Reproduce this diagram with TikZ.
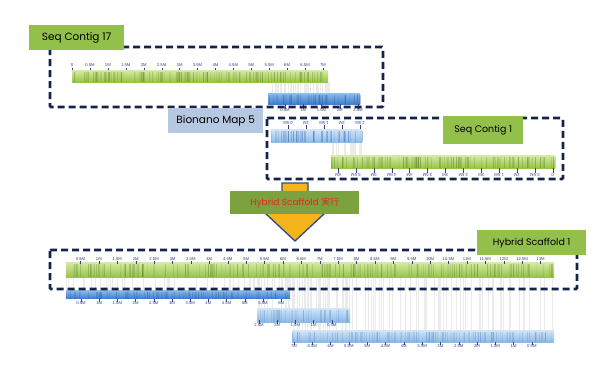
\documentclass[tikz,border=0pt]{standalone}
\usepackage{fontspec}
\setmainfont{Poppins}
\newfontfamily\cjkfont{Noto Sans CJK JP}
\newfontfamily\rulerfont{Liberation Sans}
\usepackage{xcolor}
\usepackage{tikz}
\usetikzlibrary{arrows.meta,shapes,calc}
\definecolor{navy}{HTML}{15234B}
\definecolor{tagg}{HTML}{92C04B}
\definecolor{hsg}{HTML}{7BA23F}
\definecolor{tagb}{HTML}{B6C8E1}
\definecolor{arrowc}{HTML}{F5B41C}
\definecolor{arrowe}{HTML}{2F4C88}
\definecolor{hred}{HTML}{E8231E}
\definecolor{tickc}{HTML}{3A3F86}
\definecolor{gtop}{HTML}{D5EAA6}
\definecolor{gbot}{HTML}{98C445}
\definecolor{gline}{HTML}{5A8620}
\definecolor{btop}{HTML}{8EBDEB}
\definecolor{bbot}{HTML}{3E7ECA}
\definecolor{bline}{HTML}{2A5FA6}
\definecolor{ltop}{HTML}{D3E5F7}
\definecolor{lbot}{HTML}{8CBAE8}
\definecolor{lline}{HTML}{5A8FCC}

\begin{document}
\begin{tikzpicture}[x=1pt,y=-1pt,
dbox/.style={draw=navy,line width=2.6pt,dash pattern=on 7pt off 4pt,rounded corners=1pt},
tag/.style={anchor=north west,inner sep=0pt,minimum height=25pt},
bar/.style={anchor=north west,inner sep=0pt},
gbar/.style={bar,top color=gtop,bottom color=gbot},
bbar/.style={bar,top color=btop,bottom color=bbot},
lbar/.style={bar,top color=ltop,bottom color=lbot},
gstr/.style={draw=gline,line width=0.45pt},
bstr/.style={draw=bline,line width=0.45pt},
lstr/.style={draw=lline,line width=0.45pt},
tk/.style={font=\rulerfont\fontsize{4.2}{5}\selectfont,text=tickc,inner sep=0pt},
tkm/.style={draw=tickc,line width=0.3pt},
align/.style={gray!16,line width=0.3pt}]
\fill[white](0,0)rectangle(605,376);
\useasboundingbox(0,0)rectangle(605,376);

\pgfmathsetseed{7}
\foreach \i in {1,...,45}{\pgfmathsetmacro\xx{268+62*rnd}\draw[align](\xx,82)--(\xx,93);}
\foreach \i in {1,...,25}{\pgfmathsetmacro\xx{331+31*rnd}\draw[align](\xx,142)--(\xx,155);}
\foreach \i in {1,...,80}{\pgfmathsetmacro\xx{292+261*rnd}\draw[align](\xx,277)--(\xx,330);}
\foreach \i in {1,...,30}{\pgfmathsetmacro\xx{257+93*rnd}\draw[align](\xx,277)--(\xx,308);}
\foreach \i in {1,...,50}{\pgfmathsetmacro\xx{66+224*rnd}\draw[align](\xx,277)--(\xx,290);}

\node[gbar,minimum width=256pt,minimum height=12pt](g17)at(72,70){};
\node[bbar,minimum width=92pt,minimum height=11pt](bm5)at(268,93){};
\node[bbar,minimum width=91pt,minimum height=13pt,top color=ltop,bottom color=btop](bm5r)at(271,129){};
\node[gbar,minimum width=224pt,minimum height=13pt](g1)at(331,155){};
\node[gbar,minimum width=488pt,minimum height=15pt](hsbar)at(66,262){};
\node[bbar,minimum width=224pt,minimum height=8.5pt](mapa)at(66,290){};
\node[lbar,minimum width=93pt,minimum height=14pt](mapb)at(257,308){};
\node[lbar,minimum width=262pt,minimum height=12pt](mapc)at(292,330){};

\foreach \b/\s/\m in {g17/gstr/160,bm5/bstr/60,bm5r/bstr/50,g1/gstr/140,hsbar/gstr/200,mapa/bstr/100,mapb/lstr/50,mapc/lstr/140}{
\foreach \i in {1,...,\m}{
\pgfmathsetmacro\r{rnd}\pgfmathsetmacro\o{0.06+0.32*rnd}
\draw[\s,draw opacity=\o]($(\b.north west)!\r!(\b.north east)+(0,2)$)--($(\b.south west)!\r!(\b.south east)$);
}}

\foreach \t[count=\k from 0] in {0,0.5M,1M,1.5M,2M,2.5M,3M,3.5M,4M,4.5M,5M,5.5M,6M,6.5M,7M}
{\node[tk](t17-\k)at(72+17.93*\k,65){\t};\draw[tkm](72+17.93*\k,67.5)--(72+17.93*\k,70);}
\foreach \t[count=\k from 0] in {0.5M,1M,1.5M,2M,2.5M}
{\node[tk](tb5-\k)at(285+18.25*\k,110.5){\t};\draw[tkm](285+18.25*\k,104)--(285+18.25*\k,108.5);}
\foreach \t[count=\k from 0] in {0.5M,1M,1.5M,2M,2.5M}
{\node[tk,rotate=180](tr5-\k)at(288+18*\k,123){\t};\draw[tkm](288+18*\k,125)--(288+18*\k,129);}
\foreach \t[count=\k from 0] in {6M,5.5M,5M,4.5M,4M,3.5M,3M,2.5M,2M,1.5M,1M,0.5M,0}
{\node[tk,rotate=180](t1-\k)at(338+17.9*\k,175){\t};\draw[tkm](338+17.9*\k,168)--(338+17.9*\k,172.5);}
\foreach \t[count=\k from 0] in {0.5M,1M,1.5M,2M,2.5M,3M,3.5M,4M,4.5M,5M,5.5M,6M,6.5M,7M,7.5M,8M,8.5M,9M,9.5M,10M,10.5M,11M,11.5M,12M,12.5M,13M}
{\node[tk](ths-\k)at(80.5+18.4*\k,259){\t};\draw[tkm](80.5+18.4*\k,261)--(80.5+18.4*\k,263.5);}
\foreach \t[count=\k from 0] in {0.5M,1M,1.5M,2M,2.5M,3M,3.5M,4M,4.5M,5M,5.5M,6M}
{\node[tk](ta-\k)at(81+18.2*\k,303.5){\t};\draw[tkm](81+18.2*\k,298.5)--(81+18.2*\k,301.5);}
\foreach \t[count=\k from 0] in {2.5M,2M,1.5M,1M,0.5M}
{\node[tk](tb-\k)at(259+18.2*\k,325.5){\t};\draw[tkm](259+18.2*\k,320)--(259+18.2*\k,323.5);}
\foreach \t[count=\k from 0] in {7M,6.5M,6M,5.5M,5M,4.5M,4M,3.5M,3M,2.5M,2M,1.5M,1M,0.5M}
{\node[tk](tc-\k)at(294+18.3*\k,346.5){\t};\draw[tkm](294+18.3*\k,342)--(294+18.3*\k,344.5);}

\draw[dbox](50,47)rectangle(383,107);
\draw[dbox](267,118)rectangle(563,179);
\draw[dbox](50,250)rectangle(577,289);

\draw[fill=arrowc,draw=arrowe,line width=1.3pt,line join=miter](282,183)--(308,183)--(308,213)--(325,213)--(295,241)--(265,213)--(282,213)--cycle;

\node[tag,fill=tagg,minimum width=95pt,font=\fontsize{10.5}{12}\selectfont](sc17)at(29,25){Seq Contig 17};
\node[tag,fill=tagb,minimum width=95pt,font=\fontsize{10.5}{12}\selectfont](bn5)at(168,108){Bionano Map 5};
\node[tag,fill=tagg,minimum width=80pt,minimum height=28pt,font=\fontsize{9.5}{11}\selectfont](sc1)at(443,116){Seq Contig 1};
\node[tag,fill=hsg,minimum width=129pt,minimum height=23pt,text=hred,font=\fontsize{9}{11}\selectfont](run)at(230,191){Hybrid Scaffold {\cjkfont 実行}};
\node[tag,fill=tagg,minimum width=109pt,minimum height=25pt,font=\fontsize{9.5}{11}\selectfont](hs1)at(477,230){Hybrid Scaffold 1};
\end{tikzpicture}
\end{document}
